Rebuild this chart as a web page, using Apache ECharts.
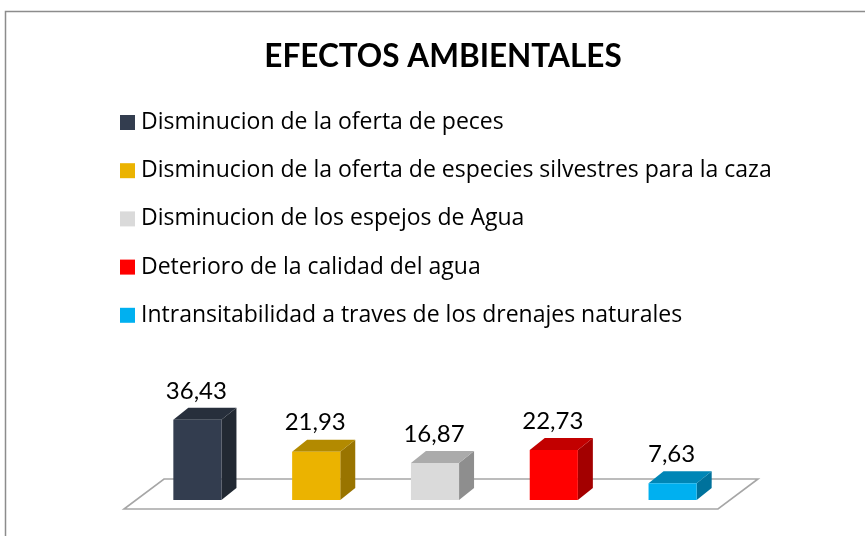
<!DOCTYPE html>
<html>
<head>
<meta charset="utf-8">
<script src="https://cdn.jsdelivr.net/npm/echarts@6/dist/echarts.min.js"></script>
<style>
  html, body { margin: 0; padding: 0; background: #fff; }
  #chart { width: 865px; height: 536px; }
</style>
</head>
<body>
<div id="chart"></div>
<script>
// Environmental effects: share of responses per effect
const categories = [
  'Disminucion de la oferta de peces',
  'Disminucion de la oferta de especies silvestres para la caza',
  'Disminucion de los espejos de Agua',
  'Deterioro de la calidad del agua',
  'Intransitabilidad a traves de los drenajes naturales'
];
const values = [36.43, 21.93, 16.87, 22.73, 7.63];

// front / side / top shades for each block
const frontColors = ['#333d4f', '#ebb300', '#dadada', '#ff0000', '#00b0f0'];
const sideColors  = ['#222933', '#997400', '#8e8e8e', '#a30000', '#00729c'];
const topColors   = ['#272f3c', '#b38a00', '#ababab', '#c20000', '#0086b6'];

const DEPTH_X = 15, DEPTH_Y = -12;

function fmt(v) { return v.toFixed(2).replace('.', ','); }

function renderBlock(params, api) {
  const idx = api.value(0);
  const val = api.value(1);
  const top = api.coord([idx, val]);
  const base = api.coord([idx, 0]);
  const band = api.size([1, 0])[0];
  const w = band * 0.405;
  const x0 = top[0] - w / 2, x1 = top[0] + w / 2;
  const yT = top[1], yB = base[1];
  return {
    type: 'group',
    children: [
      { type: 'polygon', shape: { points: [[x1, yB], [x1 + DEPTH_X, yB + DEPTH_Y], [x1 + DEPTH_X, yT + DEPTH_Y], [x1, yT]] },
        style: { fill: sideColors[idx] } },
      { type: 'polygon', shape: { points: [[x0, yT], [x1, yT], [x1 + DEPTH_X, yT + DEPTH_Y], [x0 + DEPTH_X, yT + DEPTH_Y]] },
        style: { fill: topColors[idx] } },
      { type: 'rect', shape: { x: x0, y: yT, width: w, height: yB - yT },
        style: { fill: frontColors[idx] } },
      { type: 'text', x: top[0] - 1, y: yT + DEPTH_Y - 5,
        style: { text: fmt(val), fill: '#000', font: '24px Lato', align: 'center', verticalAlign: 'bottom' } }
    ]
  };
}

// floor plate beneath the blocks
function renderFloor(params, api) {
  const band = api.size([1, 0])[0];
  const first = api.coord([0, 0]);
  const last = api.coord([categories.length - 1, 0]);
  const xl = first[0] - band / 2 - 14, xr = last[0] + band / 2 - 14;
  const yf = first[1] + 9;
  return {
    type: 'polygon',
    shape: { points: [[xl, yf], [xr, yf], [xr + 40, yf - 30], [xl + 40, yf - 30]] },
    style: { fill: '#fff', stroke: '#a6a6a6', lineWidth: 1.6 }
  };
}

const series = [{
  type: 'custom', name: '__floor', silent: true, z: 1,
  renderItem: renderFloor, data: [[0, 0]]
}];
categories.forEach((name, i) => {
  series.push({
    type: 'custom', name: name, z: 2,
    itemStyle: { color: frontColors[i] },
    renderItem: renderBlock,
    encode: { x: 0, y: 1 },
    data: [[i, values[i]]]
  });
});

const chart = echarts.init(document.getElementById('chart'), null, { renderer: 'canvas' });
chart.setOption({
  animation: false,
  backgroundColor: '#fff',
  title: {
    text: 'EFECTOS AMBIENTALES',
    left: 438, top: 36, textAlign: 'center',
    textStyle: { fontFamily: 'Lato', fontWeight: 'bold', fontSize: 31.5, color: '#000' }
  },
  legend: {
    data: categories,
    orient: 'vertical', left: 115, top: 105.5,
    icon: 'rect', itemWidth: 15, itemHeight: 15, itemGap: 24.2,
    textStyle: { fontFamily: 'Open Sans', fontSize: 23, color: '#000', lineHeight: 24, padding: [0, 0, 0, 1] },
    selectedMode: false
  },
  grid: { left: 138, right: 133, top: 390, bottom: 36 },
  xAxis: { type: 'category', data: categories, show: false },
  yAxis: { type: 'value', min: 0, max: 50, show: false },
  graphic: [{
    type: 'rect', shape: { x: 5.5, y: 11.5, width: 900, height: 600 },
    style: { fill: null, stroke: '#8c8c8c', lineWidth: 1.5 }, silent: true, z: 100
  }],
  series: series
});
</script>
</body>
</html>
